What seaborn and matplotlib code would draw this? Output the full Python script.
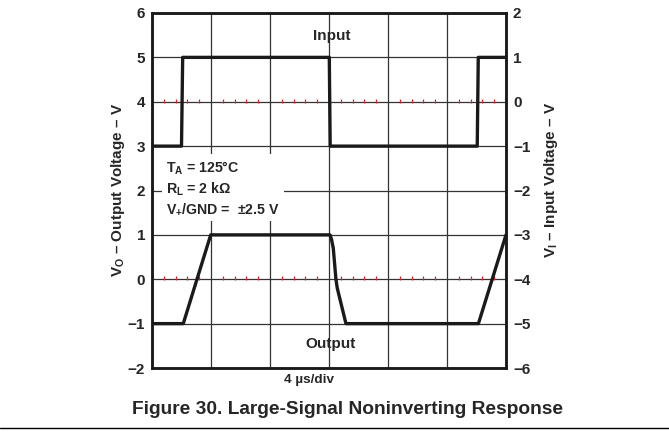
import matplotlib
matplotlib.use("Agg")
import matplotlib.pyplot as plt
from matplotlib.lines import Line2D
import seaborn as sns
import pandas as pd

# time in microseconds (6 divisions x 4 us)
input_time = [0, 2.0, 2.08, 12.02, 12.08, 22.05, 22.12, 24.0]
input_volt = [-1, -1, 1, 1, -1, -1, 1, 1]          # right axis, V_I

output_time = [0, 2.12, 3.98, 12.07, 12.17, 12.29, 12.47, 12.56, 13.15, 22.13, 24.0]
output_volt = [-1, -1, 1, 1, 0.9, 0.7, 0.0, -0.2, -1, -1, 1]   # left axis, V_O

left_ticks = [-2, -1, 0, 1, 2, 3, 4, 5, 6]
right_ticks = [-6, -5, -4, -3, -2, -1, 0, 1, 2]
time_grid = [0, 4, 8, 12, 16, 20, 24]

sns.set_style("white")
plt.rcParams["font.family"] = ["Liberation Sans", "DejaVu Sans"]
plt.rcParams["mathtext.fontset"] = "custom"
plt.rcParams["mathtext.rm"] = "Liberation Sans"
plt.rcParams["mathtext.bf"] = "Liberation Sans:bold"
plt.rcParams["mathtext.it"] = "Liberation Sans:italic"

W, H = 669, 433
fig = plt.figure(figsize=(W / 100, H / 100), dpi=100)
ax = fig.add_axes([152 / W, 1 - 368 / H, (506 - 152) / W, (368 - 13) / H])

ax.set_xlim(0, 24)
ax.set_ylim(-2, 6)
ax.set_xticks(time_grid)
ax.set_xticklabels([])
ax.set_yticks(left_ticks)
ax.set_yticklabels([f"{v}".replace("-", "\u2212") for v in left_ticks],
                   fontweight="bold", fontsize=11)
ax.tick_params(axis="both", length=0, pad=5)
ax.grid(True, color="#333333", linewidth=0.9)
ax.set_axisbelow(True)

# red center-line markers
sub = [0.8 * k for k in range(1, 30) if k % 5 != 0]
for yc in (4, 0):
    ax.vlines(sub, yc - 0.02, yc + 0.07, color="#e0202a", linewidth=0.9, zorder=2)

df_out = pd.DataFrame({"t": output_time, "v": output_volt})
sns.lineplot(data=df_out, x="t", y="v", ax=ax, color="#1a1a1a", linewidth=2.4,
             estimator=None, sort=False, zorder=4)
ax.set_xlabel("")
ax.set_ylabel("")

ax2 = ax.twinx()
ax2.set_ylim(-6, 2)
ax2.set_yticks(right_ticks)
ax2.set_yticklabels([f"{v}".replace("-", "\u2212") for v in right_ticks],
                    fontweight="bold", fontsize=11)
ax2.tick_params(axis="y", length=0, pad=5)
df_in = pd.DataFrame({"t": input_time, "v": input_volt})
sns.lineplot(data=df_in, x="t", y="v", ax=ax2, color="#1a1a1a", linewidth=2.4,
             estimator=None, sort=False, zorder=4)
ax2.set_ylabel("")

for a in (ax, ax2):
    for s in a.spines.values():
        s.set_color("#1a1a1a")
        s.set_linewidth(1.8)

ax.text(12.2, 5.48, "Input", ha="center", va="center", fontweight="bold", fontsize=11)
ax.text(12.1, -1.45, "Output", ha="center", va="center", fontweight="bold", fontsize=11)

ann = (r"$\mathbf{T_A}$ = 125°C" + "\n" + r"$\mathbf{R_L}$ = 2 kΩ" + "\n"
       + r"$\mathbf{V_{{+}}}$/GND =  ±2.5 V")
ax.text(0.95, 2.05, ann, ha="left", va="center", fontweight="bold", fontsize=10.2,
        linespacing=1.3, zorder=5,
        bbox=dict(facecolor="white", edgecolor="none", pad=3))

fig.text(118 / W, 1 - 190 / H, r"$\mathbf{V_O}$ – Output Voltage – V", rotation=90,
         ha="center", va="center", fontweight="bold", fontsize=11)
fig.text(551 / W, 1 - 180 / H, r"$\mathbf{V_I}$ – Input Voltage – V", rotation=90,
         ha="center", va="center", fontweight="bold", fontsize=11)
fig.text(309 / W, 1 - 380 / H, "4 µs/div", ha="center", va="center",
         fontweight="bold", fontsize=9.7)
fig.text(347 / W, 1 - 410 / H, "Figure 30. Large-Signal Noninverting Response",
         ha="center", va="center", fontweight="bold", fontsize=13.8)
fig.add_artist(Line2D([0, 1], [1 - 428 / H] * 2, color="black", linewidth=1.0))

fig.savefig("out.png", dpi=100)
